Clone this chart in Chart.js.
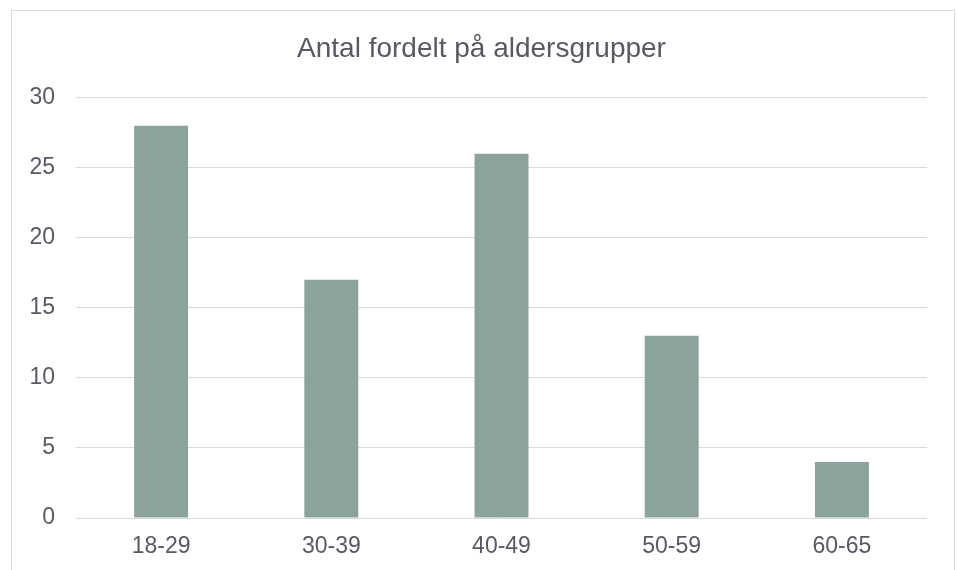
<!DOCTYPE html>
<html>
<head>
<meta charset="utf-8">
<script src="https://cdn.jsdelivr.net/npm/chart.js@4"></script>
<style>
html,body{margin:0;padding:0;background:#fff;}
#wrap{position:relative;width:957px;height:570px;}
</style>
</head>
<body>
<div id="wrap"><canvas id="c" width="957" height="570"></canvas></div>
<script>
const titleText = "Antal fordelt på aldersgrupper";
const categories = ["18-29", "30-39", "40-49", "50-59", "60-65"];
const counts = [28, 17, 26, 13, 4];
const yTicks = [0, 5, 10, 15, 20, 25, 30];

const textColor = "#595965";
const gridColor = "#d9d9de";
const barColor = "#8ba39a";

const frame = {
  id: "frame",
  beforeDraw(chart) {
    const ctx = chart.ctx;
    ctx.save();
    ctx.fillStyle = "#fff";
    ctx.fillRect(0, 0, chart.width, chart.height);
    ctx.strokeStyle = gridColor;
    ctx.lineWidth = 1;
    ctx.strokeRect(11.5, 10.5, 943, 600);
    ctx.restore();
  }
};

new Chart(document.getElementById("c"), {
  type: "bar",
  data: {
    labels: categories,
    datasets: [{
      data: counts,
      backgroundColor: barColor,
      borderWidth: 0,
      barPercentage: 0.317,
      categoryPercentage: 1.0
    }]
  },
  plugins: [frame],
  options: {
    responsive: false,
    animation: false,
    devicePixelRatio: 1,
    layout: { padding: { left: 6, right: 0, top: 0, bottom: 0 } },
    plugins: {
      legend: { display: false },
      tooltip: { enabled: false },
      title: {
        display: true,
        text: titleText,
        color: textColor,
        font: { family: "'Liberation Sans', Arial, sans-serif", size: 28, weight: "normal" },
        padding: { top: 32, bottom: 32 }
      }
    },
    scales: {
      x: {
        afterFit: (s) => { s.height = 52; },
        grid: { display: false, drawTicks: false },
        border: { display: false },
        ticks: {
          color: textColor,
          padding: 15,
          font: { family: "'Liberation Sans', Arial, sans-serif", size: 23 }
        }
      },
      y: {
        min: 0,
        max: 30,
        afterBuildTicks: (s) => { s.ticks = yTicks.map(v => ({ value: v })); },
        afterFit: (s) => { s.width = 70; },
        grid: { color: gridColor, lineWidth: 1, drawTicks: false },
        border: { display: false },
        ticks: {
          color: textColor,
          padding: 21,
          font: { family: "'Liberation Sans', Arial, sans-serif", size: 23 }
        }
      },
      yRight: {
        type: "linear",
        position: "right",
        display: true,
        grid: { display: false, drawTicks: false },
        border: { display: false },
        ticks: { display: false },
        afterFit: (s) => { s.width = 30; }
      }
    }
  }
});
</script>
</body>
</html>
